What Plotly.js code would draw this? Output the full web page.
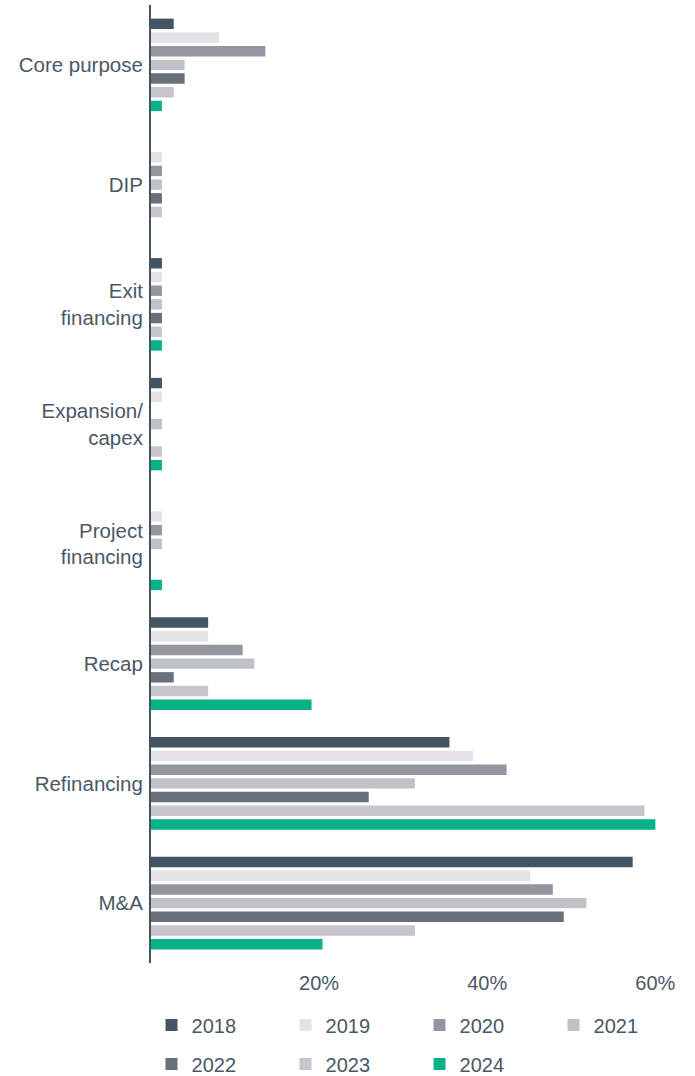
<!DOCTYPE html>
<html>
<head>
<meta charset="utf-8">
<script src="https://cdn.plot.ly/plotly-3.0.1.min.js"></script>
<style>
  html, body { margin: 0; padding: 0; background: #ffffff; }
  #chart { width: 695px; height: 1076px; }
</style>
</head>
<body>
<div id="chart"></div>
<script>
// Deal purpose categories, top to bottom
const categories = ['Core purpose', 'DIP', 'Exit<br>financing', 'Expansion/<br>capex', 'Project<br>financing', 'Recap', 'Refinancing', 'M&A'];

// Share of deals (%) per purpose, by year
const v2018 = [2.7, 0,   1.3, 1.3, 0,   6.8, 35.5, 57.3];
const v2019 = [8.1, 1.3, 1.3, 1.3, 1.3, 6.8, 38.3, 45.1];
const v2020 = [13.6, 1.3, 1.3, 0,  1.3, 10.9, 42.3, 47.8];
const v2021 = [4.0, 1.3, 1.3, 1.3, 1.3, 12.3, 31.4, 51.8];
const v2022 = [4.0, 1.3, 1.3, 0,   0,   2.7, 25.9, 49.1];
const v2023 = [2.7, 1.3, 1.3, 1.3, 0,   6.8, 58.7, 31.4];
const v2024 = [1.3, 0,   1.3, 1.3, 1.3, 19.1, 60.0, 20.4];

const years = ['2018', '2019', '2020', '2021', '2022', '2023', '2024'];
const series = [v2018, v2019, v2020, v2021, v2022, v2023, v2024];
const colors = ['#455462', '#e4e2e5', '#93969e', '#bfc2c6', '#67707b', '#c7c4cb', '#08b289'];

const textColor = '#4a5866';
const fontFamily = '"Liberation Sans", Arial, sans-serif';

// Years split over two legend rows
const traces = years.map((yr, i) => ({
  type: 'bar',
  orientation: 'h',
  name: yr,
  x: series[i],
  y: categories,
  marker: { color: colors[i], line: { width: 0 } },
  legend: i < 4 ? 'legend' : 'legend2',
  hoverinfo: 'x+name'
}));

const legendBase = {
  orientation: 'h',
  xref: 'container',
  yref: 'container',
  xanchor: 'left',
  yanchor: 'middle',
  entrywidth: 89,
  entrywidthmode: 'pixels',
  bgcolor: 'rgba(0,0,0,0)',
  borderwidth: 0,
  font: { family: fontFamily, size: 20, color: textColor },
  traceorder: 'normal'
};

const layout = {
  width: 695,
  height: 1076,
  margin: { l: 151, r: 6, t: 5, b: 113 },
  paper_bgcolor: '#ffffff',
  plot_bgcolor: '#ffffff',
  barmode: 'group',
  bargap: 0.2,
  bargroupgap: 0.24,
  font: { family: fontFamily, size: 20, color: textColor },
  xaxis: {
    range: [0, 64],
    tickvals: [20, 40, 60],
    ticktext: ['20%', '40%', '60%'],
    showgrid: false,
    zeroline: false,
    showline: false,
    ticks: '',
    ticklabelstandoff: 6,
    tickfont: { family: fontFamily, size: 20, color: textColor },
    fixedrange: true
  },
  yaxis: {
    autorange: 'reversed',
    showgrid: false,
    zeroline: false,
    showline: true,
    linecolor: '#455462',
    linewidth: 2,
    ticks: '',
    ticklabelstandoff: 2,
    tickfont: { family: fontFamily, size: 20.5, color: textColor },
    fixedrange: true
  },
  legend: Object.assign({}, legendBase, { x: 0.218, y: 1 - 1025 / 1076 }),
  legend2: Object.assign({}, legendBase, { x: 0.218, y: 1 - 1064 / 1076 }),
  showlegend: true
};

Plotly.newPlot('chart', traces, layout, { displayModeBar: false, staticPlot: true });
</script>
</body>
</html>
